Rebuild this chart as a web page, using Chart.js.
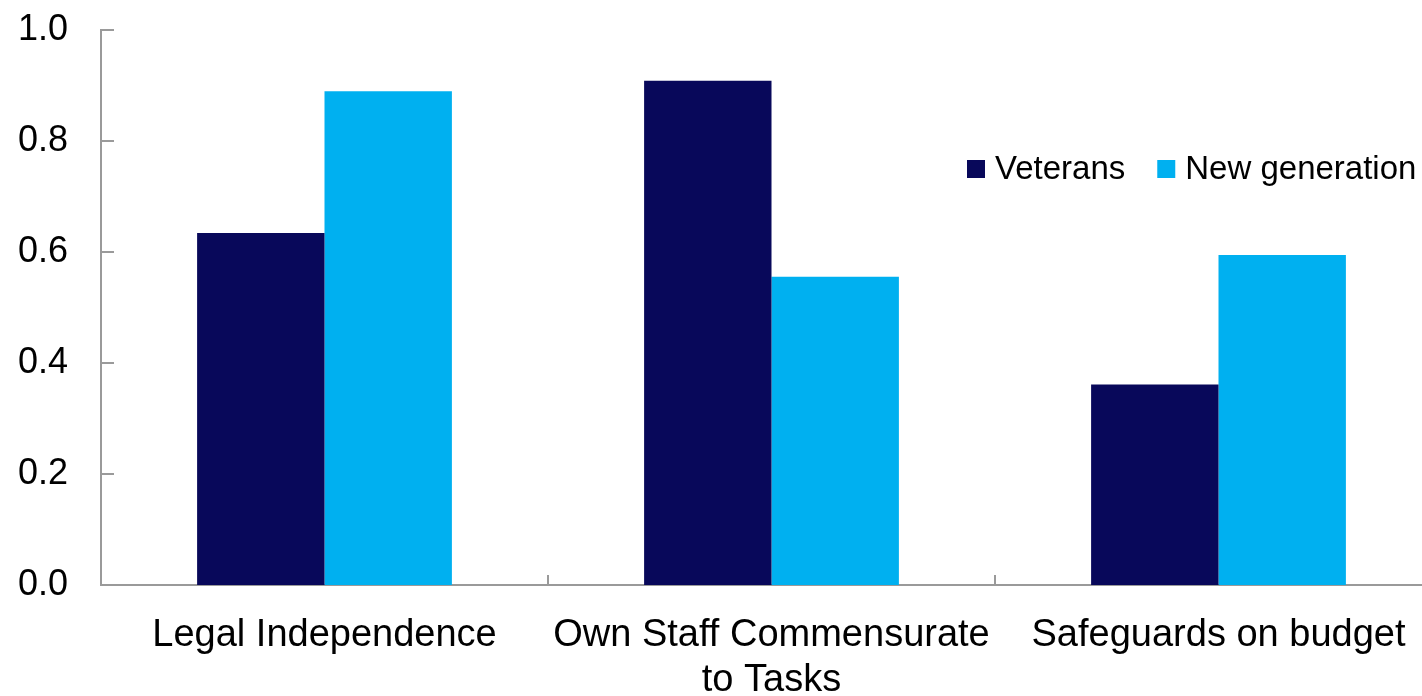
<!DOCTYPE html>
<html>
<head>
<meta charset="utf-8">
<script src="https://cdn.jsdelivr.net/npm/chart.js@4"></script>
<style>
  html, body { margin: 0; padding: 0; background: #fff; overflow: hidden; width: 1422px; height: 696px; }
  #wrap { width: 1422px; height: 696px; overflow: hidden; position: relative; }
  #myChart { position: absolute; left: 0; top: -17px; }
</style>
</head>
<body>
<div id="wrap"><canvas id="myChart" width="1442" height="713"></canvas></div>
<script>
const categories = ['Legal Independence', ['Own Staff Commensurate', 'to Tasks'], 'Safeguards on budget'];
const seriesNames = ['Veterans', 'New generation'];
const veterans = [0.634, 0.908, 0.361];
const newGeneration = [0.889, 0.555, 0.594];
const yTickLabels = ['0.0', '0.2', '0.4', '0.6', '0.8', '1.0'];

const AXIS = '#9a9a9a';

// ticks pointing into the plot, plus the legend inside the chart area
const innerTicks = {
  id: 'innerTicks',
  afterDraw(chart) {
    const ctx = chart.ctx;
    const area = chart.chartArea;
    const x = chart.scales.x;
    const y = chart.scales.y;
    ctx.save();
    ctx.strokeStyle = AXIS;
    ctx.lineWidth = 2;
    yTickLabels.forEach(t => {
      const py = Math.round(y.getPixelForValue(parseFloat(t)));
      ctx.beginPath();
      ctx.moveTo(area.left, py);
      ctx.lineTo(area.left + 13, py);
      ctx.stroke();
    });
    const half = (x.getPixelForValue(1) - x.getPixelForValue(0)) / 2;
    for (let i = 1; i < categories.length; i++) {
      const px = Math.round(x.getPixelForValue(i) - half);
      ctx.beginPath();
      ctx.moveTo(px, area.bottom);
      ctx.lineTo(px, area.bottom - 10);
      ctx.stroke();
    }

    // legend
    ctx.font = '33px "Liberation Sans", Arial, sans-serif';
    ctx.textBaseline = 'middle';
    ctx.textAlign = 'left';
    let lx = 967;
    const ly = 186;
    chart.data.datasets.forEach(ds => {
      ctx.fillStyle = ds.backgroundColor;
      ctx.fillRect(lx, ly - 9, 18, 18);
      ctx.fillStyle = '#000';
      ctx.fillText(ds.label, lx + 28, ly + 1);
      lx += 28 + ctx.measureText(ds.label).width + 32;
    });
    ctx.restore();
  }
};

new Chart('myChart', {
  type: 'bar',
  data: {
    labels: categories,
    datasets: [{
      label: seriesNames[0],
      data: veterans,
      backgroundColor: '#08085a',
      categoryPercentage: 0.57,
      barPercentage: 1.0
    }, {
      label: seriesNames[1],
      data: newGeneration,
      backgroundColor: '#00b0f0',
      categoryPercentage: 0.57,
      barPercentage: 1.0
    }]
  },
  options: {
    responsive: false,
    animation: false,
    devicePixelRatio: 1,
    layout: { padding: { top: 3, right: 0, left: 0, bottom: 0 } },
    plugins: {
      legend: { display: false },
      tooltip: { enabled: false }
    },
    scales: {
      x: {
        grid: { display: false },
        border: { display: true, color: AXIS, width: 2 },
        ticks: {
          color: '#000',
          padding: 20,
          maxRotation: 0,
          autoSkip: false,
          font: { family: '"Liberation Sans", Arial, sans-serif', size: 38, lineHeight: 1.18 }
        },
        afterFit(scale) { scale.height = 111; }
      },
      y: {
        min: 0,
        max: 1,
        grid: { display: false },
        border: { display: true, color: AXIS, width: 2 },
        ticks: {
          stepSize: 0.2,
          color: '#000',
          padding: 25,
          font: { family: '"Liberation Sans", Arial, sans-serif', size: 36 },
          callback: (v, i) => yTickLabels[i]
        },
        afterFit(scale) { scale.width = 101; }
      }
    }
  },
  plugins: [innerTicks]
});
</script>
</body>
</html>
